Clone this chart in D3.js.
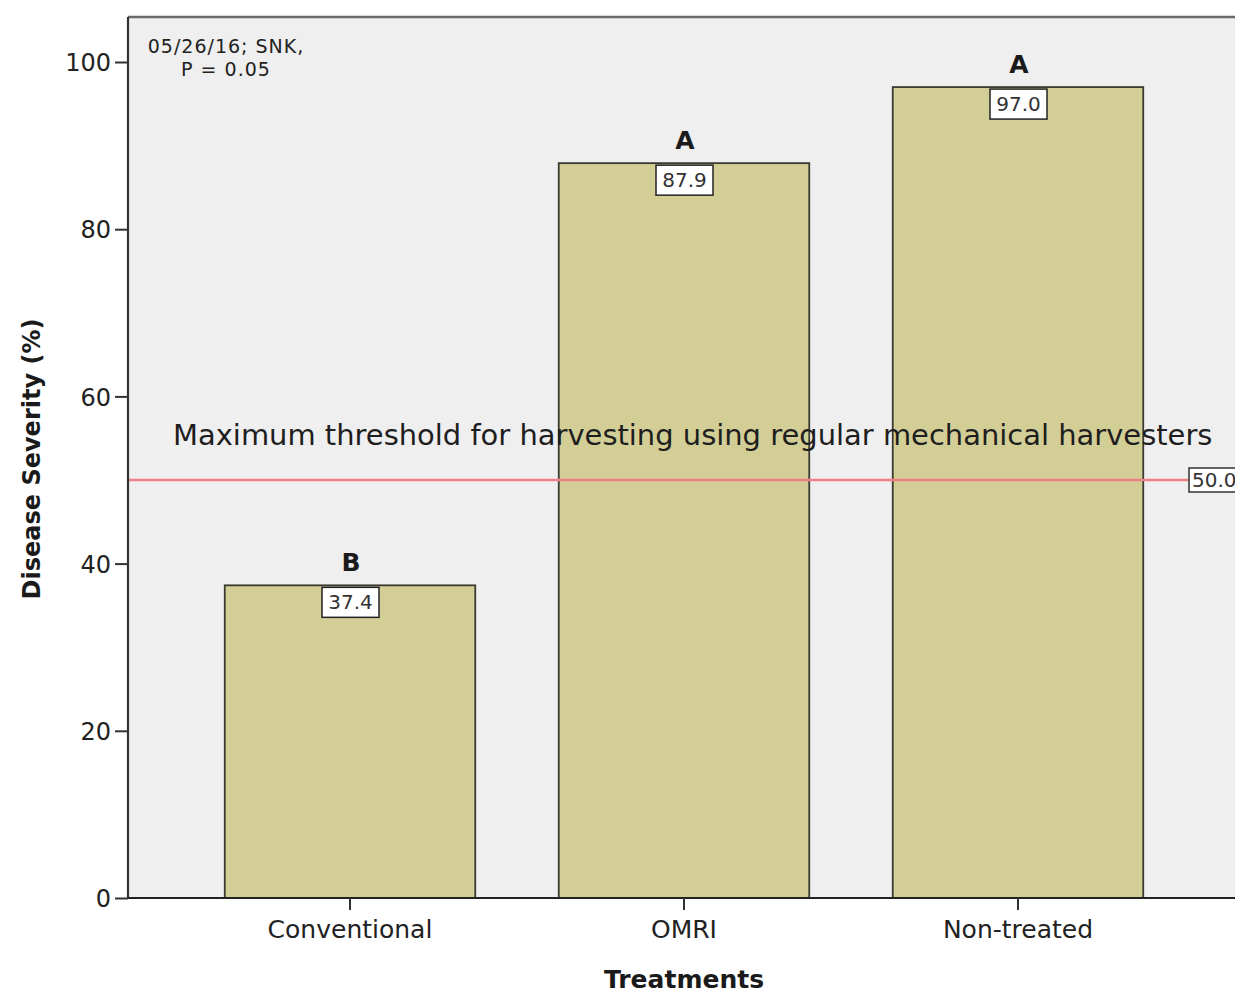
<!DOCTYPE html>
<html>
<head>
<meta charset="utf-8">
<script src="https://cdn.jsdelivr.net/npm/d3@7"></script>
<style>
  html, body { margin: 0; padding: 0; background: #fff; }
  svg { display: block; font-family: "DejaVu Sans", sans-serif; }
</style>
</head>
<body>
<svg id="chart" width="1235" height="995"></svg>
<script>
const categories = ["Conventional", "OMRI", "Non-treated"];
const values = [37.4, 87.9, 97.0];
const groupLetters = ["B", "A", "A"];
const yTicks = [0, 20, 40, 60, 80, 100];
const thresholdValue = 50;
const thresholdLabel = "Maximum threshold for harvesting using regular mechanical harvesters";
const noteLines = ["05/26/16; SNK,", "P = 0.05"];
const xTitle = "Treatments";
const yTitle = "Disease Severity (%)";

const svg = d3.select("#chart");
const plot = { left: 128, right: 1245, top: 17, bottom: 898 };

const y = d3.scaleLinear().domain([0, 100]).range([898, 62]);
const x = d3.scaleBand().domain(categories).range([183, 1185]).paddingInner(0.25).paddingOuter(0.125);

// plot background
svg.append("rect").attr("x", plot.left).attr("y", plot.top)
  .attr("width", plot.right - plot.left).attr("height", plot.bottom - plot.top)
  .attr("fill", "#efefef");
svg.append("line").attr("x1", plot.left).attr("x2", plot.right).attr("y1", plot.top).attr("y2", plot.top)
  .attr("stroke", "#6a6a6a").attr("stroke-width", 2.5);

// bars
svg.selectAll("rect.bar").data(values).join("rect").attr("class", "bar")
  .attr("x", (d, i) => x(categories[i]))
  .attr("width", x.bandwidth())
  .attr("y", d => y(d))
  .attr("height", d => y(0) - y(d))
  .attr("fill", "#d3ce96")
  .attr("stroke", "#3a3a30").attr("stroke-width", 1.8);

// threshold text
const tt = svg.append("text").attr("x", 173).attr("y", 445)
  .attr("font-size", 27).attr("fill", "#1e1e1e").text(thresholdLabel);
const tw = tt.node().getComputedTextLength();
tt.attr("font-size", 27 * 1040 / tw);

// threshold line
svg.append("line").attr("x1", plot.left).attr("x2", 1189)
  .attr("y1", y(thresholdValue)).attr("y2", y(thresholdValue))
  .attr("stroke", "#ee7f84").attr("stroke-width", 2.5);
svg.append("rect").attr("x", 1189).attr("y", y(thresholdValue) - 12)
  .attr("width", 60).attr("height", 24).attr("fill", "#fff").attr("stroke", "#333").attr("stroke-width", 1.5);
svg.append("text").attr("x", 1192).attr("y", y(thresholdValue) + 7)
  .attr("font-size", 20).attr("fill", "#333").text(d3.format(".1f")(thresholdValue));

// value labels
const vg = svg.selectAll("g.vlab").data(values).join("g").attr("class", "vlab")
  .attr("transform", (d, i) => `translate(${x(categories[i]) + x.bandwidth() / 2},${y(d)})`);
vg.append("rect").attr("x", -28).attr("y", 2).attr("width", 57).attr("height", 30)
  .attr("fill", "#fff").attr("stroke", "#222").attr("stroke-width", 1.5);
vg.append("text").attr("x", 0.5).attr("y", 24).attr("text-anchor", "middle")
  .attr("font-size", 20).attr("fill", "#333").text(d => d3.format(".1f")(d));

// group letters
svg.selectAll("text.letter").data(values).join("text").attr("class", "letter")
  .attr("x", (d, i) => x(categories[i]) + x.bandwidth() / 2 + 1)
  .attr("y", d => y(d) - 14)
  .attr("text-anchor", "middle").attr("font-size", 25).attr("font-weight", "bold").attr("fill", "#1a1a1a")
  .text((d, i) => groupLetters[i]);

// y axis
const yAxis = svg.append("g").attr("transform", `translate(${plot.left},0)`)
  .call(d3.axisLeft(y).tickValues(yTicks).tickSize(13).tickPadding(4).tickFormat(d3.format("d")));
yAxis.select(".domain").attr("d", `M0,${plot.top}V${plot.bottom}`).attr("stroke", "#333").attr("stroke-width", 2.2);
yAxis.selectAll(".tick line").attr("stroke", "#333").attr("stroke-width", 2);
yAxis.selectAll(".tick text").attr("font-size", 24).attr("fill", "#222").attr("font-family", "DejaVu Sans, sans-serif").attr("dy", "0.36em");

// x axis
const xAxis = svg.append("g").attr("transform", `translate(0,${plot.bottom})`)
  .call(d3.axisBottom(x).tickSize(12).tickPadding(10));
xAxis.select(".domain").attr("d", `M${plot.left},0H${plot.right}`).attr("stroke", "#222").attr("stroke-width", 2.2);
xAxis.selectAll(".tick line").attr("stroke", "#333").attr("stroke-width", 2);
xAxis.selectAll(".tick text").attr("font-size", 25).attr("fill", "#222").attr("font-family", "DejaVu Sans, sans-serif");

// titles
svg.append("text").attr("x", 684).attr("y", 988).attr("text-anchor", "middle")
  .attr("font-size", 25).attr("font-weight", "bold").attr("fill", "#1a1a1a").text(xTitle);
svg.append("text").attr("transform", "translate(40,459) rotate(-90)").attr("text-anchor", "middle")
  .attr("font-size", 24).attr("font-weight", "bold").attr("fill", "#1a1a1a").text(yTitle);

// note
svg.selectAll("text.note").data(noteLines).join("text").attr("class", "note")
  .attr("x", 226).attr("y", (d, i) => 53 + i * 23).attr("text-anchor", "middle")
  .attr("font-size", 19).attr("letter-spacing", 1).attr("fill", "#222").text(d => d);
</script>
</body>
</html>
